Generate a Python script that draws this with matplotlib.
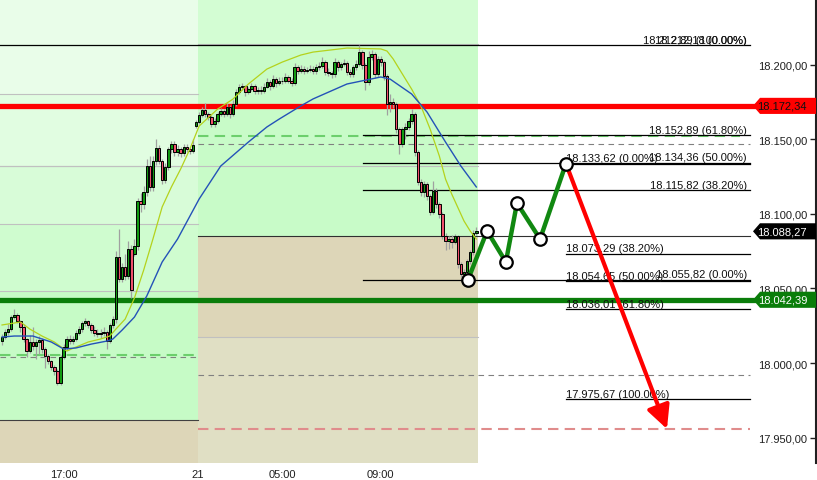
import matplotlib
matplotlib.use('Agg')
import matplotlib.pyplot as plt
from matplotlib.patches import Rectangle, Polygon
import numpy as np

plt.rcParams['font.family'] = ['Liberation Sans', 'DejaVu Sans']

# ---------------- data ----------------
opens = [18014.7, 18017.4, 18020.8, 18022.8, 18030.8, 18032.2, 18028.2, 18024.1, 18016.1, 18008.0,
         18014.1, 18011.4, 18014.1, 18015.4, 18009.4, 18004.7, 18001.3, 17997.3, 17994.6, 17986.6,
         18004.0, 18010.7, 18016.1, 18014.8, 18016.1, 18020.1, 18022.8, 18026.8, 18028.2, 18025.5,
         18022.1, 18020.1, 18019.4, 18020.1, 18020.8, 18014.8, 18025.5, 18029.5, 18071.0, 18056.3,
         18064.3, 18058.3, 18076.4, 18073.1, 18078.4, 18108.6, 18106.6, 18114.6, 18132.0, 18118.0,
         18135.4, 18144.1, 18135.4, 18122.7, 18131.4, 18143.4, 18146.8, 18141.4, 18143.4, 18140.7,
         18144.7, 18143.4, 18142.1,
         18158.8, 18161.5, 18166.2, 18169.6, 18166.9, 18164.9, 18160.2, 18162.2, 18166.9, 18168.9,
         18166.9, 18171.6, 18166.9, 18173.6, 18181.6, 18185.0, 18185.6, 18181.6, 18183.6, 18185.7,
         18182.3, 18183.0, 18182.3, 18185.0, 18188.3, 18185.7, 18190.3, 18187.7, 18189.0, 18189.0,
         18191.7, 18189.0, 18187.7, 18198.4, 18195.7, 18197.1, 18195.7, 18196.4, 18197.1, 18195.7,
         18198.4, 18199.1, 18201.7, 18195.0, 18194.4, 18193.7, 18201.7, 18198.4, 18200.4, 18201.1,
         18195.0, 18193.7, 18198.4, 18200.4, 18208.4, 18199.7, 18188.3, 18205.1, 18207.1, 18193.7,
         18203.8, 18201.7, 18192.4, 18173.6, 18174.9, 18173.6, 18156.8, 18146.8, 18156.8, 18158.2,
         18162.2, 18166.9, 18141.4, 18121.3, 18114.6, 18120.0, 18111.9, 18101.2, 18115.3, 18106.6,
         18099.9, 18085.1, 18081.8, 18083.1, 18081.1, 18085.1, 18066.4, 18059.7, 18061.0, 18068.4,
         18074.4, 18087.1]
closes = [18017.4, 18020.8, 18022.8, 18030.8, 18032.2, 18028.2, 18024.1, 18016.1, 18008.0, 18014.1,
          18011.4, 18014.1, 18015.4, 18009.4, 18004.7, 18001.3, 17997.3, 17994.6, 17986.6, 18004.0,
          18010.7, 18016.1, 18014.8, 18016.1, 18020.1, 18022.8, 18026.8, 18028.2, 18025.5, 18022.1,
          18020.1, 18019.4, 18020.1, 18020.8, 18014.8, 18025.5, 18029.5, 18071.0, 18056.3, 18064.3,
          18058.3, 18076.4, 18048.9, 18078.4, 18108.6, 18106.6, 18114.6, 18132.0, 18118.0, 18135.4,
          18144.1, 18135.4, 18122.7, 18131.4, 18143.4, 18146.8, 18141.4, 18143.4, 18140.7, 18144.7,
          18143.4, 18142.1, 18146.1,
          18161.5, 18166.2, 18169.6, 18166.9, 18164.9, 18160.2, 18162.2, 18166.9, 18168.9, 18166.9,
          18171.6, 18166.9, 18173.6, 18181.6, 18185.0, 18185.6, 18181.6, 18183.6, 18185.7, 18182.3,
          18183.0, 18182.3, 18185.0, 18188.3, 18185.7, 18190.3, 18187.7, 18189.0, 18189.0, 18191.7,
          18189.0, 18187.7, 18198.4, 18195.7, 18197.1, 18195.7, 18196.4, 18197.1, 18195.7, 18198.4,
          18199.1, 18201.7, 18195.0, 18194.4, 18193.7, 18201.7, 18198.4, 18200.4, 18201.1, 18195.0,
          18193.7, 18198.4, 18200.4, 18208.4, 18199.7, 18188.3, 18205.1, 18207.1, 18193.7, 18203.8,
          18201.7, 18192.4, 18173.6, 18174.9, 18173.6, 18156.8, 18146.8, 18156.8, 18158.2, 18162.2,
          18166.9, 18141.4, 18121.3, 18114.6, 18120.0, 18111.9, 18101.2, 18115.3, 18106.6, 18099.9,
          18085.1, 18081.8, 18083.1, 18081.1, 18085.1, 18066.4, 18059.7, 18061.0, 18068.4, 18074.4,
          18087.1, 18088.3]
highs = [18019.5, 18023.0, 18026.0, 18032.0, 18036.0, 18033.5, 18029.0, 18026.0, 18017.0, 18018.5,
         18024.0, 18016.0, 18018.0, 18016.5, 18011.0, 18006.0, 18002.0, 17998.5, 17996.0, 18005.5,
         18013.0, 18018.0, 18018.5, 18018.0, 18022.0, 18025.0, 18028.5, 18030.0, 18029.0, 18027.0,
         18024.5, 18023.0, 18022.5, 18024.0, 18022.0, 18027.0, 18031.5, 18075.0, 18090.0, 18067.0,
         18073.0, 18082.0, 18079.0, 18083.0, 18110.5, 18114.0, 18118.5, 18136.5, 18138.5, 18139.0,
         18150.0, 18146.0, 18137.0, 18134.0, 18145.0, 18148.5, 18149.0, 18146.0, 18145.0, 18147.0,
         18146.5, 18145.0, 18150.0,
         18163.0, 18168.0, 18171.5, 18174.0, 18168.5, 18166.0, 18164.0, 18168.5, 18171.0, 18170.5,
         18174.0, 18173.0, 18176.0, 18183.5, 18187.0, 18188.0, 18186.5, 18185.0, 18187.5, 18187.0,
         18185.0, 18185.5, 18188.0, 18191.0, 18190.0, 18193.0, 18192.0, 18191.5, 18192.0, 18194.5,
         18193.0, 18191.0, 18201.0, 18200.0, 18199.5, 18199.0, 18198.5, 18199.5, 18199.0, 18200.5,
         18202.0, 18205.0, 18203.0, 18197.5, 18196.0, 18204.5, 18203.0, 18202.0, 18203.5, 18202.5,
         18197.0, 18200.0, 18203.0, 18212.9, 18210.0, 18201.0, 18209.0, 18210.0, 18208.5, 18206.0,
         18205.5, 18203.0, 18193.5, 18180.0, 18177.5, 18175.0, 18158.0, 18158.5, 18161.0, 18164.0,
         18170.0, 18168.0, 18143.0, 18123.0, 18122.0, 18121.5, 18113.0, 18122.0, 18117.0, 18108.0,
         18101.0, 18087.0, 18085.0, 18086.0, 18086.5, 18086.0, 18068.0, 18063.0, 18070.0, 18076.0,
         18089.0, 18091.0]
lows = [18012.0, 18016.0, 18019.0, 18021.5, 18029.5, 18026.5, 18021.0, 18014.0, 18004.0, 18006.5,
        18009.0, 18003.0, 18006.0, 18007.0, 17997.0, 17999.5, 17995.5, 17992.0, 17985.0, 17985.5,
        18002.5, 18009.0, 18012.5, 18013.0, 18014.5, 18019.0, 18021.0, 18025.0, 18023.5, 18020.0,
        18018.0, 18017.5, 18017.0, 18018.0, 18009.5, 18013.5, 18023.5, 18027.0, 18054.0, 18054.0,
        18055.5, 18056.5, 18043.5, 18071.5, 18076.0, 18101.0, 18103.0, 18112.0, 18115.5, 18115.0,
        18133.0, 18133.5, 18120.0, 18120.5, 18129.5, 18141.0, 18138.5, 18139.0, 18138.0, 18139.0,
        18141.5, 18140.0, 18140.5,
        18157.5, 18160.0, 18165.0, 18165.0, 18163.0, 18158.5, 18158.0, 18161.0, 18165.5, 18165.0,
        18165.5, 18164.5, 18165.5, 18172.0, 18180.0, 18183.0, 18179.0, 18180.0, 18182.0, 18180.0,
        18180.5, 18180.0, 18181.0, 18184.0, 18183.0, 18184.5, 18185.0, 18186.0, 18187.0, 18188.0,
        18187.5, 18185.5, 18186.5, 18194.0, 18194.5, 18194.0, 18194.5, 18195.0, 18193.5, 18194.0,
        18196.5, 18197.5, 18193.0, 18192.5, 18191.0, 18192.0, 18196.0, 18196.5, 18199.0, 18193.0,
        18191.5, 18192.0, 18196.5, 18199.0, 18197.0, 18183.0, 18186.0, 18203.0, 18191.0, 18192.0,
        18199.0, 18190.0, 18166.0, 18168.0, 18171.0, 18154.0, 18140.0, 18144.5, 18150.0, 18156.5,
        18160.5, 18139.0, 18119.0, 18112.0, 18111.5, 18109.0, 18099.0, 18100.0, 18104.0, 18097.5,
        18083.0, 18076.0, 18076.5, 18077.0, 18079.5, 18064.0, 18057.5, 18055.8, 18059.5, 18066.5,
        18072.5, 18085.5]

# moving averages (sampled at candle index)
ma_fast_idx = [0, 6, 9, 13, 17, 21, 24, 28, 32, 35, 37, 40, 43, 46, 49, 52, 55, 58, 61, 64, 70, 75,
               80, 86, 91, 97, 101, 112, 123, 125, 127, 131, 133, 136, 139, 142, 144, 146, 150, 152, 154]
ma_fast = [18025.5, 18027.5, 18022.8, 18018.1, 18014.1, 18008.0, 18010.7, 18014.1, 18016.1, 18018.1,
           18022.8, 18029.5, 18043.6, 18062.3, 18083.1, 18104.6, 18118.0, 18130.0, 18143.4, 18158.8,
           18170.2, 18176.9, 18187.0, 18197.0, 18201.7, 18206.4, 18208.4, 18211.1, 18210.5, 18209.1,
           18203.8, 18190.3, 18183.6, 18172.3, 18156.8, 18138.7, 18123.3, 18113.3, 18095.2, 18088.5,
           18083.1]
ma_slow_idx = [0, 4, 10, 16, 20, 24, 29, 34, 36, 39, 43, 47, 52, 57, 64, 71, 80, 86, 90, 97, 101,
               112, 123, 126, 133, 138, 144, 149, 154]
ma_slow = [18017.4, 18018.1, 18018.1, 18014.1, 18009.4, 18010.1, 18012.7, 18014.7, 18016.1, 18022.1,
           18030.8, 18044.9, 18067.7, 18083.1, 18109.9, 18132.0, 18148.1, 18158.2, 18163.5, 18172.3,
           18177.0, 18187.0, 18191.7, 18190.3, 18180.3, 18168.2, 18148.1, 18132.0, 18118.0]

xtick_pos = [20.1, 63.6, 90.9, 123.0]
xtick_labels = ['17:00', '21', '05:00', '09:00']
ytick_vals = [17950, 18000, 18050, 18100, 18150, 18200]

resistance = 18172.34
support = 18042.39
last_price = 18088.27

wave_idx = [151.3, 157.5, 163.6, 167.2, 174.7, 183.1]
wave_price = [18055.82, 18088.5, 18067.7, 18107.2, 18083.1, 18133.62]
target_idx = 215.9
target_price = 17955.8

upper_fib = [18212.89, 18152.89, 18134.36, 18115.82, 18055.82]
upper_fib_pct = ['100.00%', '61.80%', '50.00%', '38.20%', '0.00%']
lower_fib = [18133.62, 18073.29, 18054.65, 18036.01, 17975.67]
lower_fib_pct = ['0.00%', '38.20%', '50.00%', '61.80%', '100.00%']
extra_top_label = 18212.18

left_bands = [18244.0, 18180.3, 18132.0, 18093.2, 18048.3, 17961.8, 17933.0]
left_colors = ['#e9fde9', '#e1fde1', '#d8fcd8', '#cffccf', '#c6fbc6', '#ddd6b8']
mid_bands = [18244.0, 18213.8, 18085.1, 18017.4, 17933.0]
mid_colors = ['#d3fdd3', '#c8fbc8', '#ddd6b8', '#e0dfc4']

green_dash_level = 18152.4
gray_dash_level = 18146.8
gray_dash_low = 17992.0
red_dash_level = 17955.8
left_green_dash = 18005.6
left_gray_dash = 18004.2


def fmt(v):
    s = f"{v:,.2f}"
    return s.replace(',', 'X').replace('.', ',').replace('X', '.')


def px(x):
    # pixel column -> candle index coordinate
    return (x - 2.0) / 3.08


# ---------------- figure ----------------
fig = plt.figure(figsize=(8.17, 4.81), dpi=100)
ax = fig.add_axes([0.0, 17 / 481, 816 / 817, 464 / 481])
ax.set_xlim(px(0), px(816))
ax.set_ylim(17933.0, 18243.97)

x0, xb, xe = px(0), px(198), px(478)

# background bands
for i, c in enumerate(left_colors):
    ax.add_patch(Rectangle((x0, left_bands[i + 1]), xb - x0, left_bands[i] - left_bands[i + 1],
                           facecolor=c, edgecolor='none', zorder=0))
for i, c in enumerate(mid_colors):
    ax.add_patch(Rectangle((xb, mid_bands[i + 1]), xe - xb, mid_bands[i] - mid_bands[i + 1],
                           facecolor=c, edgecolor='none', zorder=0))

# light gray level lines
for lv in left_bands[1:5]:
    ax.plot([x0, xb], [lv, lv], color='#c0c0c0', lw=0.8, zorder=1)
ax.plot([x0, xe], [18132.0, 18132.0], color='#c0c0c0', lw=0.8, zorder=1)
ax.plot([xb, xe], [mid_bands[1], mid_bands[1]], color='#c0c0c0', lw=0.8, zorder=1)
ax.plot([xb, xe], [mid_bands[3], mid_bands[3]], color='#c0c0c0', lw=0.8, zorder=1)
# darker session lines
ax.plot([x0, xb], [left_bands[5], left_bands[5]], color='#404040', lw=0.8, zorder=1)
ax.plot([xb, px(750)], [mid_bands[2], mid_bands[2]], color='#303030', lw=0.8, zorder=1)

# dashed levels
ax.plot([xb, px(740)], [green_dash_level] * 2, color='#6ccf6c', lw=1.5, ls=(0, (5, 3)), zorder=1)
ax.plot([xb, px(750)], [gray_dash_level] * 2, color='#808080', lw=0.8, ls=(0, (5, 4)), zorder=1)
ax.plot([xb, px(750)], [gray_dash_low] * 2, color='#808080', lw=0.8, ls=(0, (5, 4)), zorder=1)
ax.plot([xb, px(750)], [red_dash_level] * 2, color='#e08c8c', lw=1.5, ls=(0, (5, 3)), zorder=1)
ax.plot([x0, xb], [left_green_dash] * 2, color='#6ccf6c', lw=1.5, ls=(0, (5, 3)), zorder=1)
ax.plot([x0, xb], [left_gray_dash] * 2, color='#808080', lw=0.8, ls=(0, (5, 4)), zorder=1)

# fibonacci lines
ax.plot([x0, px(750)], [upper_fib[0]] * 2, color='black', lw=0.9, zorder=2)
for lv in upper_fib[1:]:
    ax.plot([px(363), px(750)], [lv, lv], color='black', lw=0.9, zorder=2)
for lv in lower_fib:
    ax.plot([px(566), px(750)], [lv, lv], color='black', lw=0.9, zorder=2)

fs = 8
off = 1.6
for lv, pct in zip(upper_fib, upper_fib_pct):
    ax.text(px(747), lv + off, f"{fmt(lv)} ({pct})", ha='right', va='baseline', fontsize=fs,
            color='#101010', zorder=6)
ax.text(px(747), upper_fib[0] + off, f"{fmt(extra_top_label)} (0.00%)", ha='right', va='baseline',
        fontsize=fs, color='#101010', zorder=6)
for lv, pct in zip(lower_fib, lower_fib_pct):
    ax.text(px(566), lv + off, f"{fmt(lv)} ({pct})", ha='left', va='baseline', fontsize=fs,
            color='#101010', zorder=6)

# support / resistance
ax.axhline(resistance, xmin=0, xmax=753 / 816, color='#ff0000', lw=3.8, zorder=3)
ax.axhline(support, xmin=0, xmax=753 / 816, color='#0a7d0a', lw=3.8, zorder=3)

# candles
n = len(closes)
xs = np.arange(n)
o = np.array(opens)
c = np.array(closes)
ax.vlines(xs, lows, highs, color='#a0a0a0', lw=0.9, zorder=4)
body_col = ['#119a11' if cc >= oo else '#f0506c' for oo, cc in zip(o, c)]
ax.bar(xs, c - o, bottom=o, width=0.78, color=body_col, edgecolor='black', linewidth=0.7, zorder=5)

# moving averages
ax.plot(ma_fast_idx, ma_fast, color='#b4d21c', lw=0.9, zorder=6)
ax.plot(ma_slow_idx, ma_slow, color='#2452b8', lw=1.0, zorder=6)

# projection arrow
ax.annotate('', xy=(target_idx, target_price), xytext=(wave_idx[-1], wave_price[-1]),
            arrowprops=dict(arrowstyle='-|>,head_length=1.0,head_width=0.5', color='#ff0000', lw=3.0,
                            shrinkA=0, shrinkB=0, mutation_scale=14), zorder=7)
# wave
ax.plot(wave_idx, wave_price, color='#118811', lw=3.2, zorder=8, solid_joinstyle='miter')
ax.plot(wave_idx, wave_price, ls='none', marker='o', ms=9, mfc='white', mec='black', mew=1.6, zorder=9)

# price tags
tr = ax.get_yaxis_transform()
h = 5.4
for price, face, tc in [(resistance, '#ff0000', '#101010'), (last_price, '#000000', 'white'),
                        (support, '#0a7d0a', 'white')]:
    pts = [(753 / 816, price), (760 / 816, price + h), (1.0, price + h), (1.0, price - h),
           (760 / 816, price - h)]
    ax.add_patch(Polygon(pts, closed=True, transform=tr, facecolor=face, edgecolor='none',
                         clip_on=False, zorder=10))
    ax.text(807 / 816, price, fmt(price), transform=tr, ha='right', va='center', color=tc,
            fontsize=fs, zorder=11)

# axes styling
for s in ['left', 'top', 'bottom']:
    ax.spines[s].set_visible(False)
ax.spines['right'].set_linewidth(1.5)
ax.spines['right'].set_color('#202020')
ax.yaxis.tick_right()
ax.set_yticks(ytick_vals)
ax.set_yticklabels([fmt(v) for v in ytick_vals])
ax.tick_params(axis='y', direction='in', length=4, width=1, pad=-6.5, labelsize=fs, colors='#202020')
for t in ax.get_yticklabels():
    t.set_horizontalalignment('right')
ax.set_xticks(xtick_pos)
ax.set_xticklabels(xtick_labels)
ax.tick_params(axis='x', length=0, pad=4, labelsize=fs, colors='#202020')

fig.savefig('out.png', dpi=100)
